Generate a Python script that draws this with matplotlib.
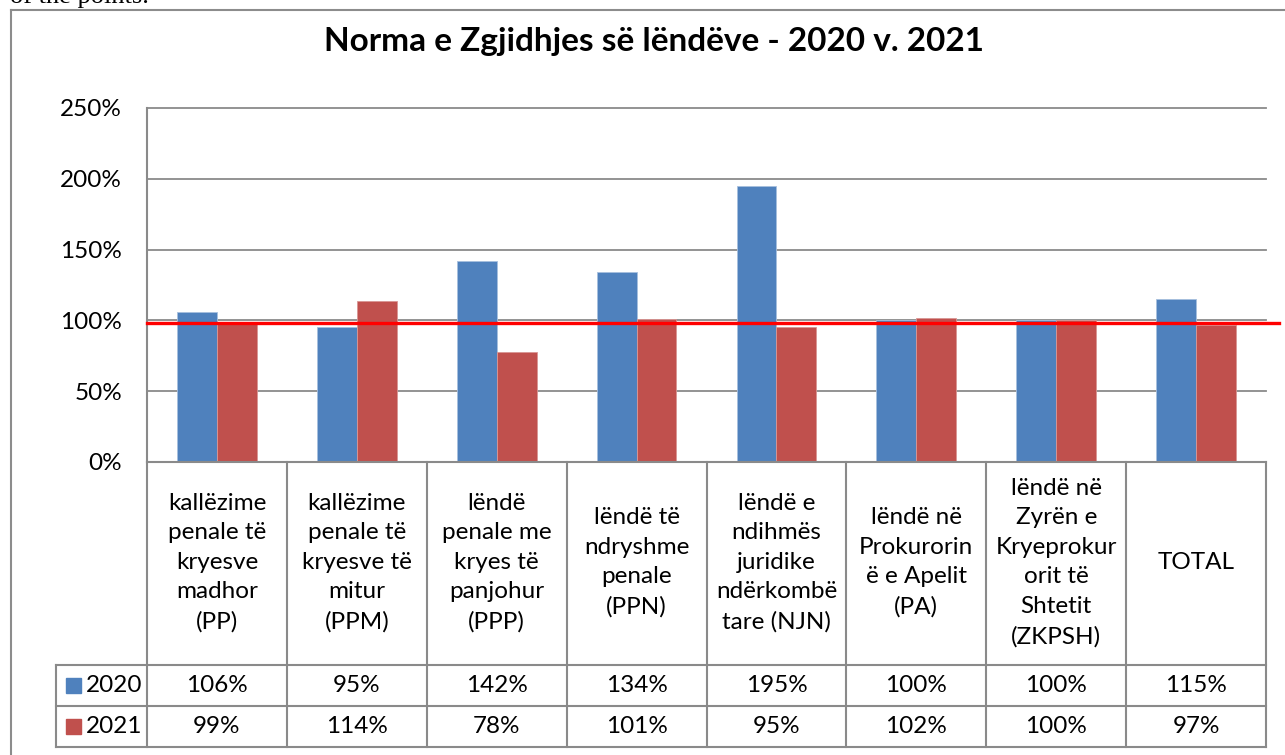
import numpy as np
import matplotlib.pyplot as plt
from matplotlib.lines import Line2D
from matplotlib.patches import Rectangle
import matplotlib.transforms as mtransforms

# Të dhënat
categories = [
    "kallëzime\npenale të\nkryesve\nmadhor\n(PP)",
    "kallëzime\npenale të\nkryesve të\nmitur\n(PPM)",
    "lëndë\npenale me\nkryes të\npanjohur\n(PPP)",
    "lëndë të\nndryshme\npenale\n(PPN)",
    "lëndë e\nndihmës\njuridike\nndërkombë\ntare (NJN)",
    "lëndë në\nProkurorin\në e Apelit\n(PA)",
    "lëndë në\nZyrën e\nKryeprokur\norit të\nShtetit\n(ZKPSH)",
    "TOTAL",
]
series_names = ["2020", "2021"]
values_2020 = [106, 95, 142, 134, 195, 100, 100, 115]
values_2021 = [99, 114, 78, 101, 95, 102, 100, 97]
ref_level = 98.5
y_ticks = [0, 50, 100, 150, 200, 250]

blue = "#4F81BD"
red = "#C0504D"
grid_col = "#8A8A8A"
font = "Lato"
fs = 17.5

W, H = 1285, 755
fig = plt.figure(figsize=(W / 100, H / 100), dpi=100)


def fx(px):
    return px / W


def fy(py):
    return 1 - py / H


# zona e grafikut
left, right, top, bottom = 147, 1266, 108, 462
ax = fig.add_axes([fx(left), fy(bottom), fx(right - left), (bottom - top) / H])

x = np.arange(len(categories))
bw = 0.285
ax.bar(x - bw / 2, values_2020, bw, color=blue, edgecolor="#A7BFDE", linewidth=0.6, zorder=3)
ax.bar(x + bw / 2, values_2021, bw, color=red, edgecolor="#D99694", linewidth=0.6, zorder=3)

ax.set_xlim(-0.5, len(categories) - 0.5)
ax.set_ylim(0, 250)
ax.set_yticks(y_ticks)
ax.set_yticklabels([f"{t}%" for t in y_ticks], fontsize=fs, family=font)
ax.tick_params(axis="y", length=0, pad=18)
ax.set_xticks([])
for t in y_ticks[1:]:
    ax.axhline(t, color=grid_col, linewidth=1.3, zorder=1, clip_on=False)
for s in ["top", "right", "bottom"]:
    ax.spines[s].set_visible(False)
ax.spines["left"].set_color(grid_col)
ax.spines["left"].set_linewidth(1.5)

# vija e kuqe
trans = mtransforms.blended_transform_factory(ax.transAxes, ax.transData)
ax.plot([0, (1279 - left) / (right - left)], [ref_level, ref_level], color="#FF0000",
        linewidth=2.4, transform=trans, clip_on=False, zorder=5)

# tabela e të dhënave
col_w = (right - left) / len(categories)
r0, r1, r2, r3 = bottom, 665, 706, 747
lkw = dict(color=grid_col, linewidth=1.5)
for i in range(len(categories) + 1):
    xx = left + col_w * i
    fig.add_artist(Line2D([fx(xx), fx(xx)], [fy(r0), fy(r3)], **lkw))
fig.add_artist(Line2D([fx(left), fx(right)], [fy(r0), fy(r0)], **lkw))
for yy in (r1, r2, r3):
    fig.add_artist(Line2D([fx(56), fx(right)], [fy(yy), fy(yy)], **lkw))
fig.add_artist(Line2D([fx(56), fx(56)], [fy(r1), fy(r3)], **lkw))

for i, cat in enumerate(categories):
    cx = left + col_w * (i + 0.5)
    fig.text(fx(cx), fy((r0 + r1) / 2 - 1), cat, ha="center", va="center",
             fontsize=fs, family=font, linespacing=1.5)
    fig.text(fx(cx), fy((r1 + r2) / 2), f"{values_2020[i]}%", ha="center", va="center",
             fontsize=fs, family=font)
    fig.text(fx(cx), fy((r2 + r3) / 2), f"{values_2021[i]}%", ha="center", va="center",
             fontsize=fs, family=font)

for name, col, (ya, yb) in zip(series_names, [blue, red], [(r1, r2), (r2, r3)]):
    ym = (ya + yb) / 2
    fig.add_artist(Rectangle((fx(66), fy(ym + 7.5)), fx(15), 15 / H, color=col,
                             transform=fig.transFigure))
    fig.text(fx(86), fy(ym), name, ha="left", va="center", fontsize=fs, family=font)

# titulli
fig.text(fx(654), fy(42), "Norma e Zgjidhjes së lëndëve - 2020 v. 2021", ha="center",
         va="center", fontsize=24, fontweight="bold", family=font)

# korniza e grafikut
fig.add_artist(Line2D([fx(11), fx(11)], [fy(10), 0], color="#8C8C8C", linewidth=1.5))
fig.add_artist(Line2D([fx(11), 1], [fy(10), fy(10)], color="#8C8C8C", linewidth=1.5))

# teksti i prerë sipër
fig.text(fx(10), fy(3), "of the points.", ha="left", va="baseline", fontsize=19,
         family="Liberation Serif")

fig.savefig("out.png", dpi=100)
